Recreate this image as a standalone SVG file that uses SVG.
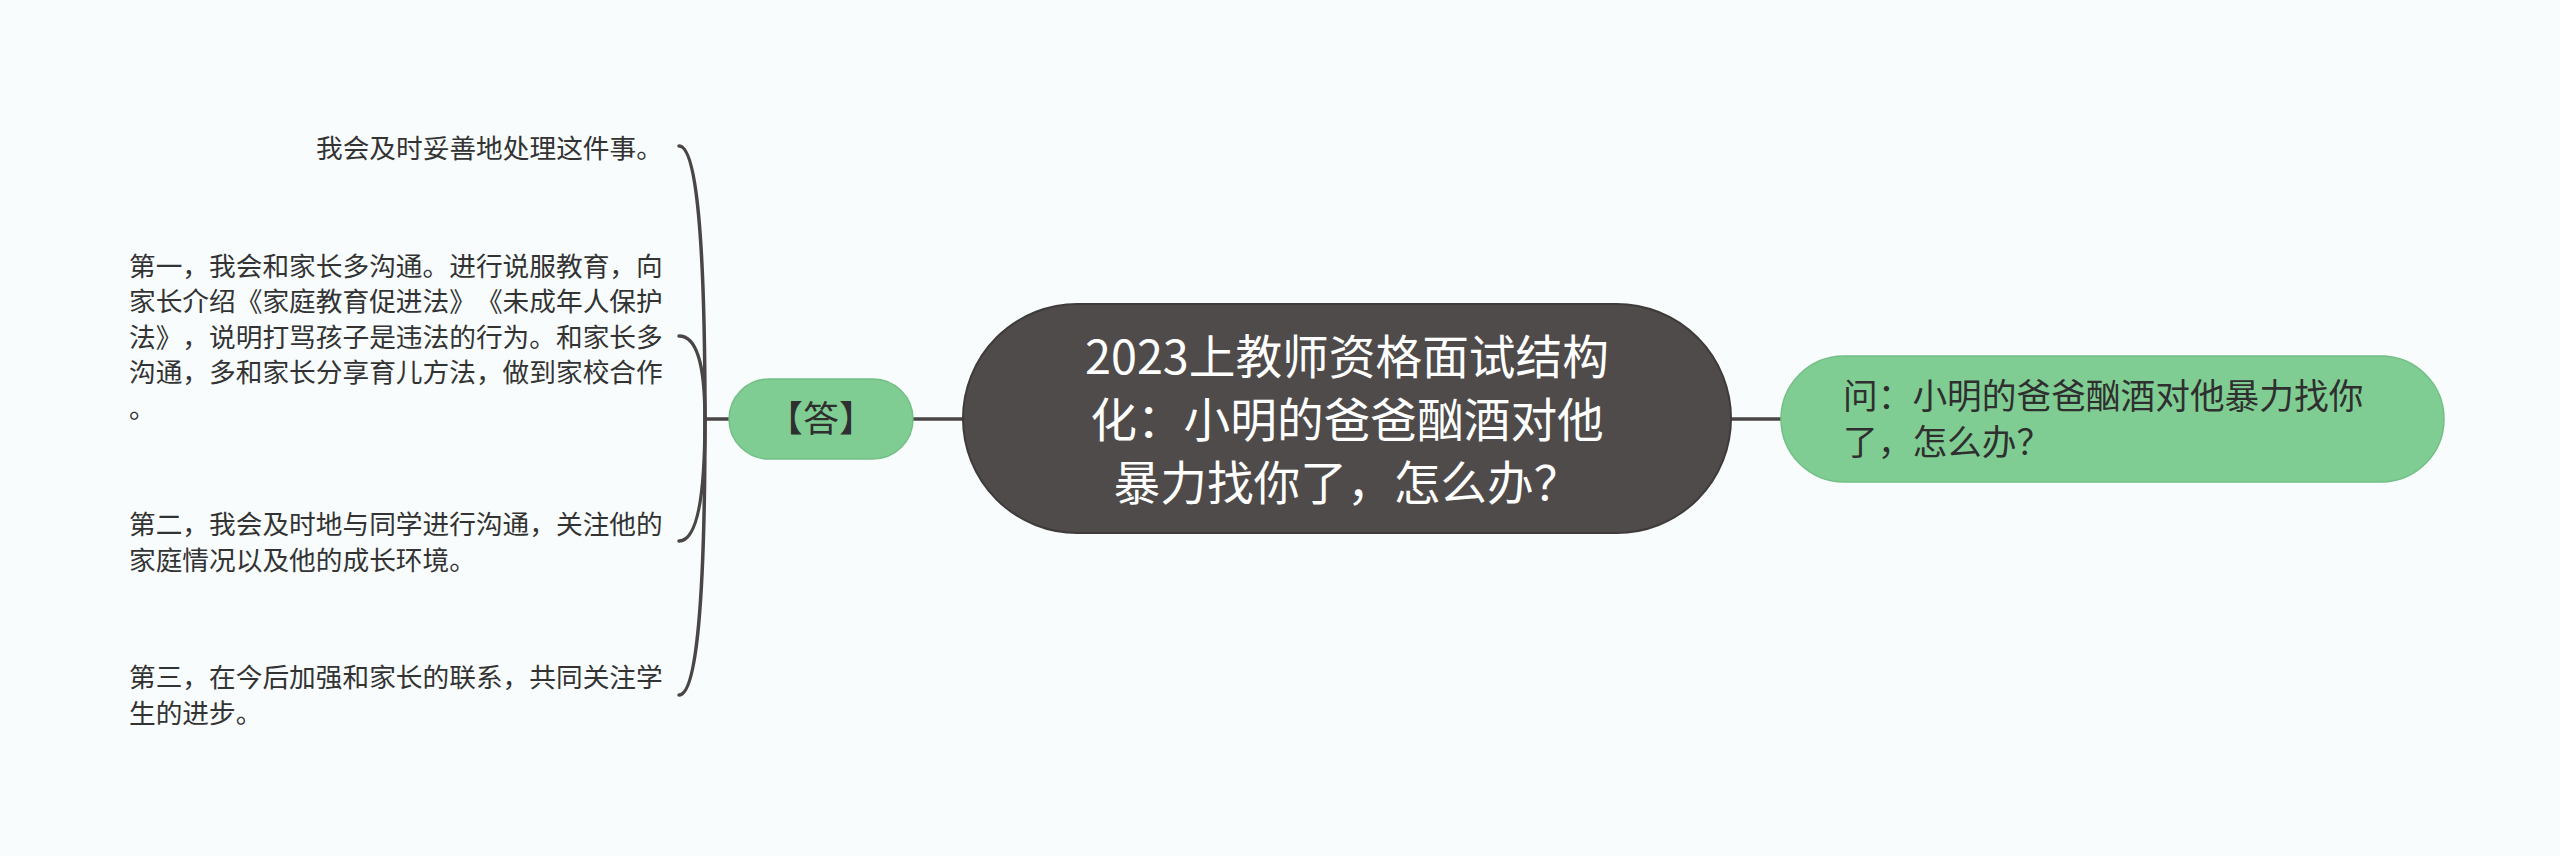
<svg xmlns="http://www.w3.org/2000/svg" width="2560" height="856" viewBox="0 0 2560 856">
<style>
text{text-spacing-trim:space-all;font-kerning:none;}
.leaf{font-family:"Noto Sans CJK SC","Noto Sans",sans-serif;font-size:26.7px;fill:#333333;}
.main{font-family:"Noto Sans CJK SC","Noto Sans",sans-serif;font-size:46.7px;fill:#ffffff;}
.sub{font-family:"Noto Sans CJK SC","Noto Sans",sans-serif;font-size:34.7px;fill:#2f2f2f;}
.green{fill:#80cd93;stroke:#72bf86;stroke-width:1.5;}
.conn{fill:none;stroke:#4a4645;stroke-width:3.5;stroke-linecap:round;}
</style>
<rect x="0" y="0" width="2560" height="856" fill="#f8fcfd"/>
<g id="connectors">
<line class="conn" x1="1731" y1="419" x2="1781" y2="419"/>
<line class="conn" x1="913" y1="419" x2="963" y2="419"/>
<line class="conn" x1="729" y1="419" x2="705" y2="419"/>
<path class="conn" d="M705 419 Q705 146 679 146"/>
<path class="conn" d="M705 419 Q705 336 679 336"/>
<path class="conn" d="M705 419 Q705 541 679 541"/>
<path class="conn" d="M705 419 Q705 695 679 695"/>
</g>
<g id="center">
<rect x="963" y="304" width="768" height="229" rx="114.5" fill="#4f4b4a" stroke="#3f3b3a" stroke-width="2"/>
<text class="main" text-anchor="middle" x="1347" y="374">2023上教师资格面试结构</text>
<text class="main" text-anchor="middle" x="1347" y="437">化：小明的爸爸酗酒对他</text>
<text class="main" text-anchor="middle" x="1347" y="500">暴力找你了，怎么办？</text>
</g>
<g id="question">
<rect class="green" x="1781" y="356" width="663" height="126" rx="63"/>
<text class="sub" x="1843" y="409">问：小明的爸爸酗酒对他暴力找你</text>
<text class="sub" x="1843" y="455">了，怎么办？</text>
</g>
<g id="answer">
<rect class="green" x="729" y="379" width="184" height="80" rx="40"/>
<text class="sub" text-anchor="middle" x="821" y="432" style="font-size:36px">【答】</text>
</g>
<g id="leaf0">
<text class="leaf" x="316" y="158">我会及时妥善地处理这件事。</text>
</g>
<g id="leaf1">
<text class="leaf" x="129" y="275.5">第一，我会和家长多沟通。进行说服教育，向</text>
<text class="leaf" x="129" y="311">家长介绍《家庭教育促进法》《未成年人保护</text>
<text class="leaf" x="129" y="346.5">法》，说明打骂孩子是违法的行为。和家长多</text>
<text class="leaf" x="129" y="382">沟通，多和家长分享育儿方法，做到家校合作</text>
<text class="leaf" x="129" y="417.5">。</text>
</g>
<g id="leaf2">
<text class="leaf" x="129" y="534">第二，我会及时地与同学进行沟通，关注他的</text>
<text class="leaf" x="129" y="570">家庭情况以及他的成长环境。</text>
</g>
<g id="leaf3">
<text class="leaf" x="129" y="687">第三，在今后加强和家长的联系，共同关注学</text>
<text class="leaf" x="129" y="723">生的进步。</text>
</g>
</svg>
